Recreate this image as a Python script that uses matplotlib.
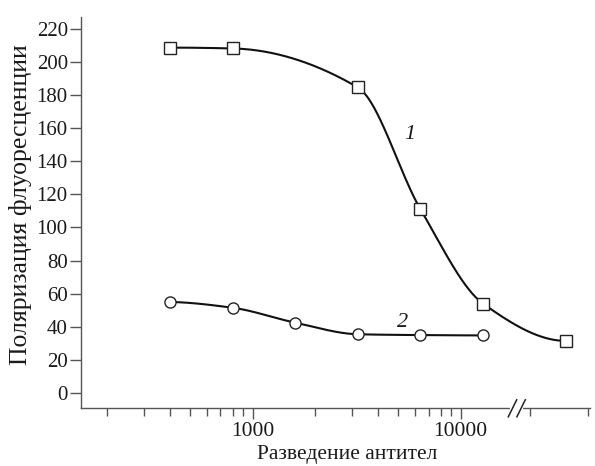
import numpy as np
import matplotlib
matplotlib.use("Agg")
import matplotlib.pyplot as plt
from matplotlib.lines import Line2D
from matplotlib.ticker import FixedLocator, NullFormatter, FixedFormatter

plt.rcParams['font.family'] = ['Liberation Serif', 'DejaVu Serif']

# ---- data ----
curve1_x = [400, 800, 3200, 6400, 12800, 32000]
curve1_y = [208.5, 208.0, 184.5, 111.0, 54.0, 31.5]
curve2_x = [400, 800, 1600, 3200, 6400, 12800]
curve2_y = [55.0, 51.5, 42.5, 35.5, 35.0, 34.8]

major_ticks = [1000, 10000]
major_labels = ["1000", "10000"]
minor_ticks = [200, 300, 400, 500, 600, 700, 800, 900,
               2000, 3000, 4000, 5000, 6000, 7000, 8000, 9000,
               21500, 41000]
y_ticks = list(range(0, 221, 20))
x_break = 18600
xlabel = "Разведение антител"
ylabel = "Поляризация флуоресценции"


def pchip(x, y, xn):
    x = np.asarray(x, float); y = np.asarray(y, float)
    h = np.diff(x); d = np.diff(y) / h
    n = len(x); m = np.zeros(n)
    for k in range(1, n - 1):
        if d[k - 1] * d[k] > 0:
            w1 = 2 * h[k] + h[k - 1]; w2 = h[k] + 2 * h[k - 1]
            m[k] = (w1 + w2) / (w1 / d[k - 1] + w2 / d[k])
    def endslope(h0, h1, d0, d1):
        s = ((2 * h0 + h1) * d0 - h0 * d1) / (h0 + h1)
        if np.sign(s) != np.sign(d0):
            s = 0.0
        elif np.sign(d0) != np.sign(d1) and abs(s) > abs(3 * d0):
            s = 3 * d0
        return s
    m[0] = endslope(h[0], h[1], d[0], d[1])
    m[-1] = endslope(h[-1], h[-2], d[-1], d[-2])
    idx = np.clip(np.searchsorted(x, xn) - 1, 0, n - 2)
    t = (xn - x[idx]) / h[idx]
    h00 = 2 * t**3 - 3 * t**2 + 1; h10 = t**3 - 2 * t**2 + t
    h01 = -2 * t**3 + 3 * t**2; h11 = t**3 - t**2
    return h00 * y[idx] + h10 * h[idx] * m[idx] + h01 * y[idx + 1] + h11 * h[idx] * m[idx + 1]


fig = plt.figure(figsize=(5.95, 4.66), dpi=100)
ax = fig.add_axes([0.1361, 0.1238, 0.8547, 0.8398])
ax.set_xscale('log')

spine_c = '#555555'
for s in ['top', 'right']:
    ax.spines[s].set_visible(False)
for s in ['left', 'bottom']:
    ax.spines[s].set_color(spine_c)
    ax.spines[s].set_linewidth(1.0)

for xs, ys, mk in [(curve1_x, curve1_y, 's'), (curve2_x, curve2_y, 'o')]:
    lx = np.log10(xs)
    xx = np.linspace(lx[0], lx[-1], 400)
    yy = pchip(lx, ys, xx)
    ax.plot(10 ** xx, yy, color='#111111', lw=1.5, zorder=2, solid_capstyle='round')
    ax.plot(xs, ys, linestyle='none', marker=mk, markersize=8.5 if mk == 's' else 8,
            markerfacecolor='white', markeredgecolor='#222222', markeredgewidth=1.0, zorder=3)

ax.set_xlim(149.4, 41610)
ax.set_ylim(-9.2, 227)

ax.xaxis.set_major_locator(FixedLocator(major_ticks))
ax.xaxis.set_major_formatter(FixedFormatter(major_labels))
ax.xaxis.set_minor_locator(FixedLocator(minor_ticks))
ax.xaxis.set_minor_formatter(NullFormatter())
ax.set_yticks(y_ticks)

ax.tick_params(axis='x', which='major', direction='out', length=8, width=1.0,
               color=spine_c, labelsize=15.5, pad=1.5, labelcolor='#1a1a1a')
ax.tick_params(axis='x', which='minor', direction='out', length=5.5, width=1.0, color=spine_c)
ax.tick_params(axis='y', which='major', direction='out', length=8, width=1.0,
               color=spine_c, labelsize=15, pad=1.5, labelcolor='#1a1a1a')

ax.set_xlabel(xlabel, fontsize=15.5, color='#1a1a1a')
ax.xaxis.set_label_coords(0.523, -0.095)
ax.set_ylabel(ylabel, fontsize=18.5, color='#1a1a1a')
ax.yaxis.set_label_coords(-0.097, 0.52)

ax.text(5700, 156, "1", fontsize=16, style='italic', ha='center', va='center', color='#1a1a1a')
ax.text(5280, 42.5, "2", fontsize=16, style='italic', ha='center', va='center', color='#1a1a1a')

# axis break marks
bx = ax.transData.transform((x_break, 0))[0]
by = ax.transAxes.transform((0, 0))[1]
fig.add_artist(Line2D([bx - 4.5, bx + 4.5], [by, by], color='white', lw=3, transform=None, zorder=5))
for off in (-4.3, 4.3):
    fig.add_artist(Line2D([bx + off - 4.2, bx + off + 4.2], [by - 8.5, by + 8.5],
                          color='#222222', lw=1.1, transform=None, zorder=6))

fig.savefig('out.png', dpi=100)
